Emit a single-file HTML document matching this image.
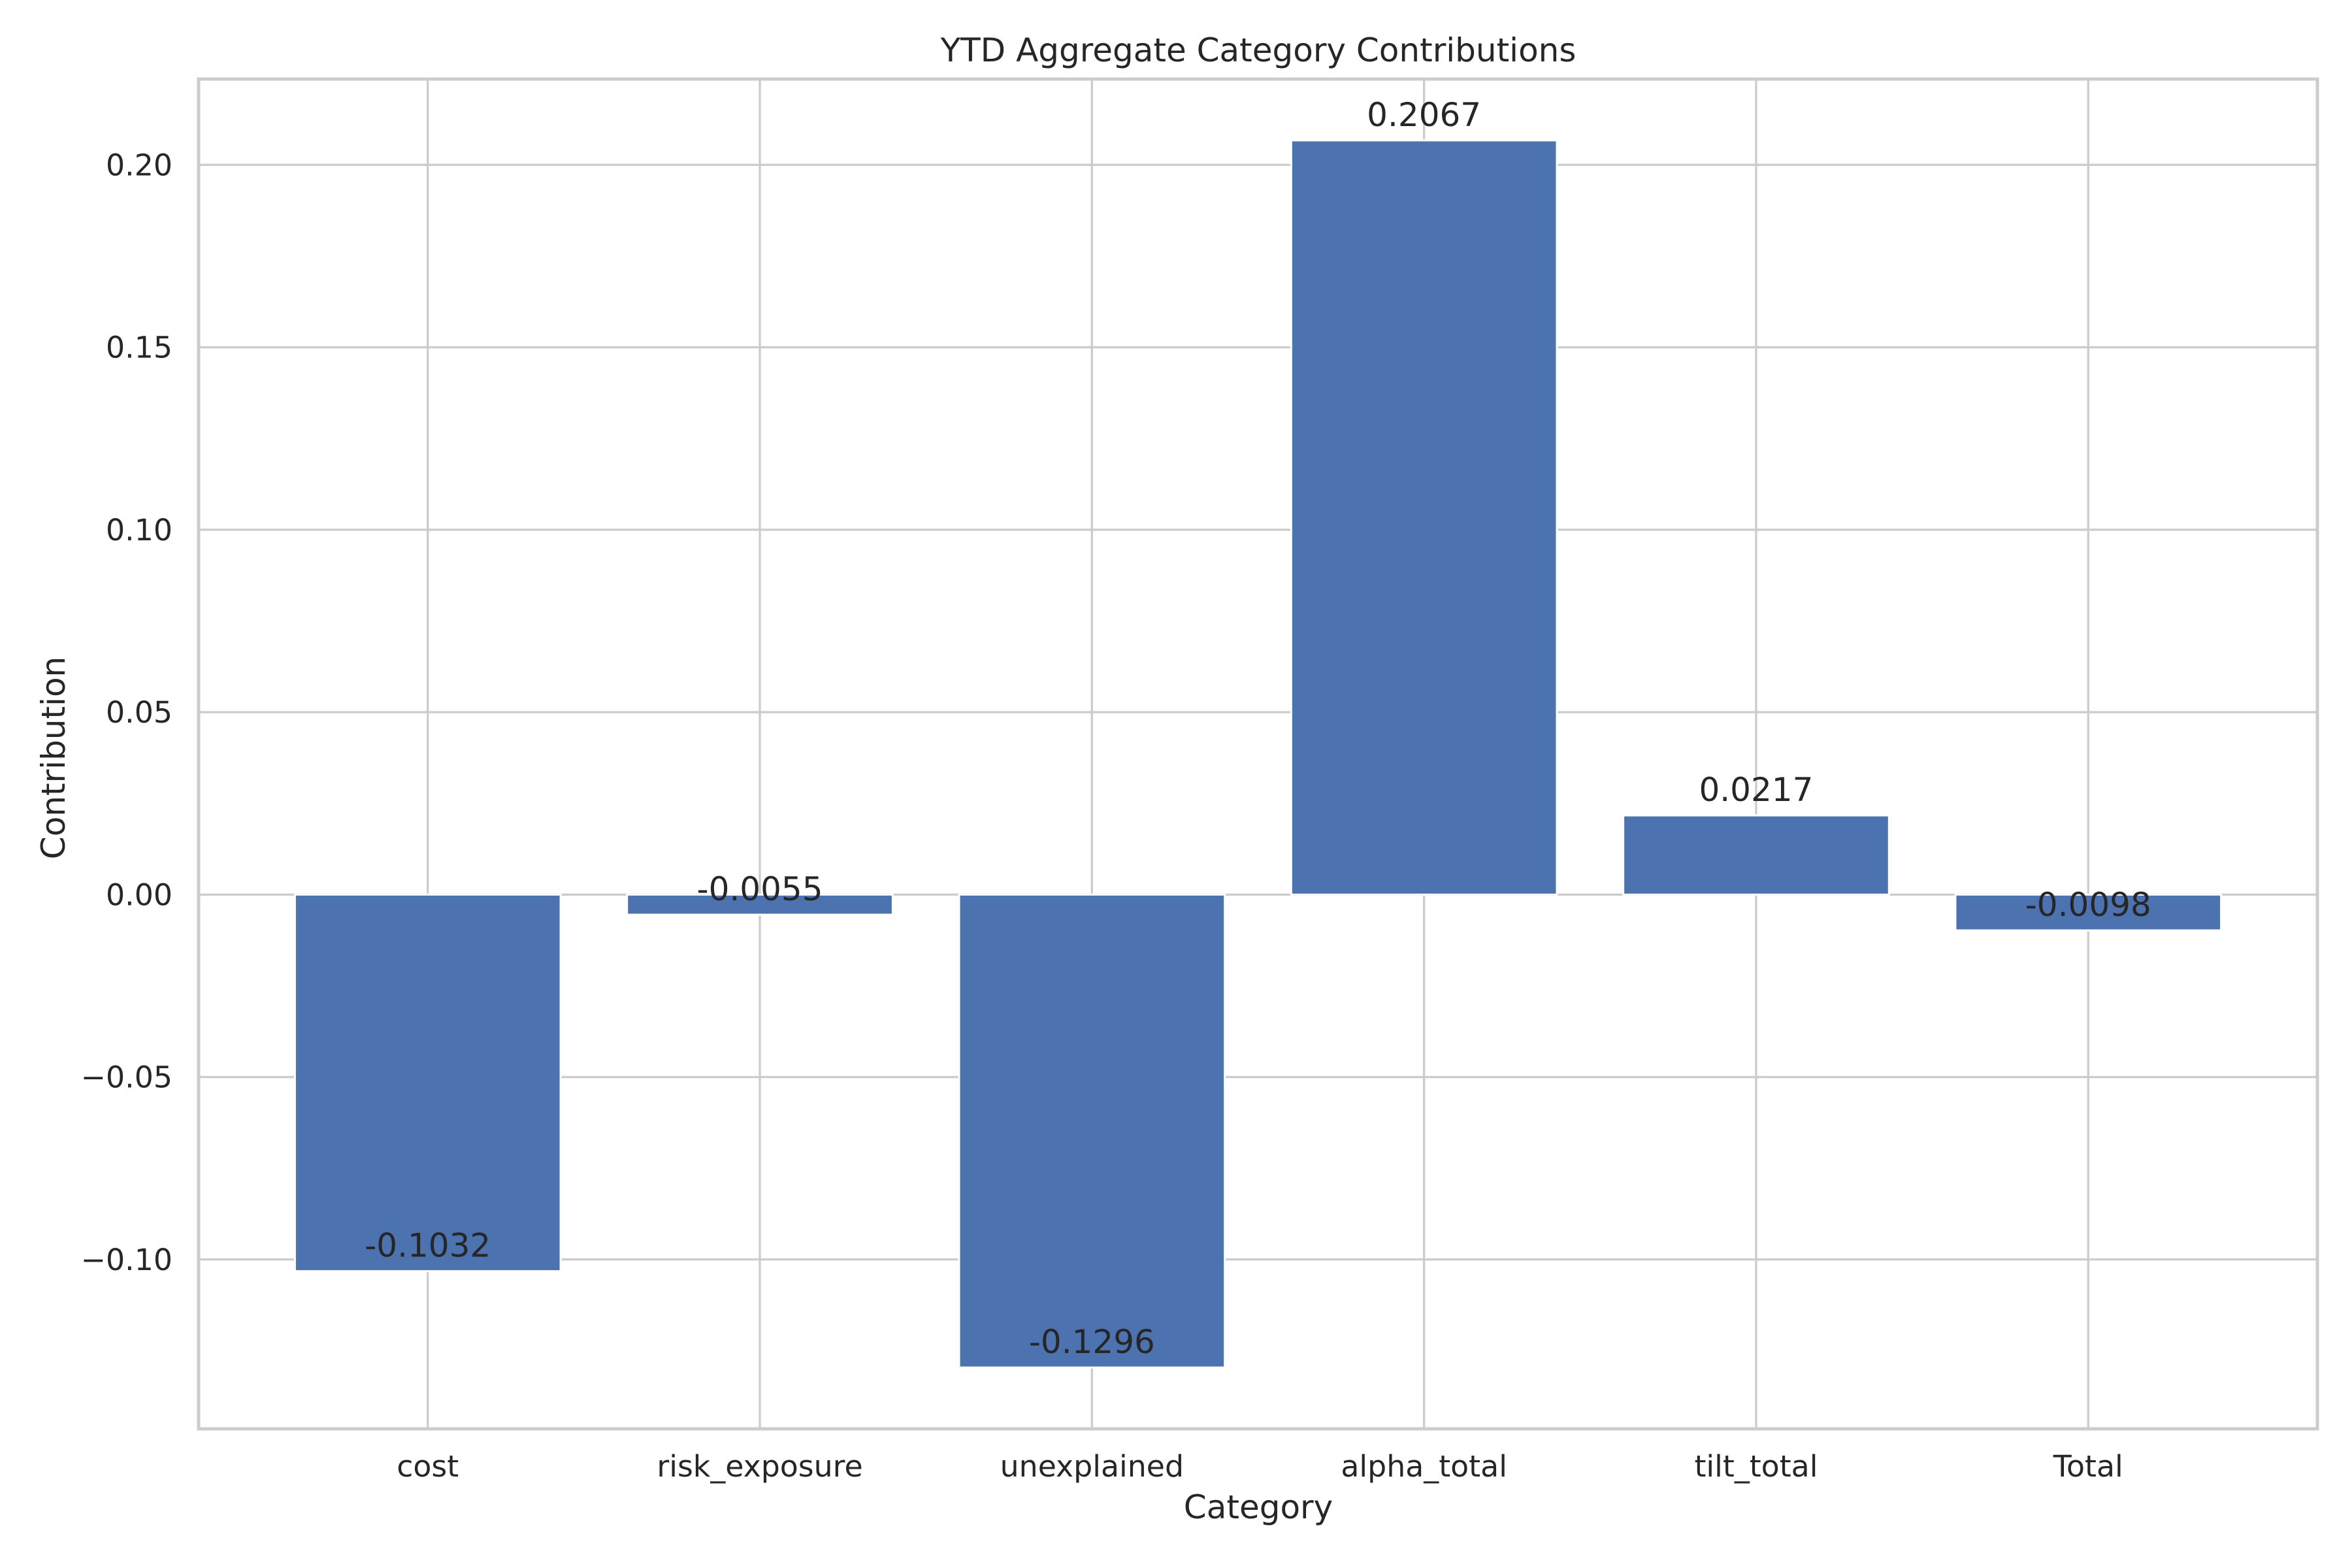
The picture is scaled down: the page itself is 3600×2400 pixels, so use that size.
<!DOCTYPE html>
<html><head><meta charset="utf-8"><style>
html,body{margin:0;padding:0;background:#fff;}
svg{display:block;}
text{font-family:"DejaVu Sans","Liberation Sans",sans-serif;fill:#262626;}
</style></head><body>
<svg id="chart" width="3600" height="2400" viewBox="0 0 3600 2400" xmlns="http://www.w3.org/2000/svg">
<rect width="3600" height="2400" fill="#fff"/>
<g id="grid"></g><g id="bars"></g><g id="labels"></g><g id="axes"></g>
<text x="1926" y="94" font-size="50" text-anchor="middle">YTD Aggregate Category Contributions</text>
<text x="1926" y="2324" font-size="50" text-anchor="middle">Category</text>
<text x="0" y="0" font-size="50" text-anchor="middle" transform="translate(99,1160) rotate(-90)">Contribution</text>
</svg>
<script>
const categories = ["cost","risk_exposure","unexplained","alpha_total","tilt_total","Total"];
const values = [-0.1032,-0.0055,-0.1296,0.2067,0.0217,-0.0098];
const valueLabels = ["-0.1032","-0.0055","-0.1296","0.2067","0.0217","-0.0098"];
const yTicks = [-0.10,-0.05,0.00,0.05,0.10,0.15,0.20];
const yTickLabels = ["\u22120.10","\u22120.05","0.00","0.05","0.10","0.15","0.20"];

const NS="http://www.w3.org/2000/svg";
const L=304,R=3547,T=121,B=2187;
const n=categories.length;
const xmin=-0.69,xmax=n-1+0.69;
const vmin=Math.min(0,...values),vmax=Math.max(0,...values);
const span=vmax-vmin;
const ymin=vmin-0.05*span,ymax=vmax+0.05*span;
function x(i){return L+(i-xmin)/(xmax-xmin)*(R-L);}
function y(v){return B-(v-ymin)/(ymax-ymin)*(B-T);}
function mk(tag,attrs,parent){const e=document.createElementNS(NS,tag);for(const k in attrs)e.setAttribute(k,attrs[k]);parent.appendChild(e);return e;}
const grid=document.getElementById('grid'),bars=document.getElementById('bars'),labels=document.getElementById('labels'),axes=document.getElementById('axes');
yTicks.forEach((t,k)=>{
  const gy=y(t);
  const l=mk('line',{x1:L,x2:R,y1:gy,y2:gy,stroke:'#cccccc','stroke-width':3.3},grid);
  
  
  const tx=mk('text',{x:L-40,y:gy+16,'font-size':45.8,'text-anchor':'end'},axes);
  tx.textContent=yTickLabels[k];
  
  
});
categories.forEach((c,i)=>{
  const cx=x(i);
  const g=mk('line',{x1:cx,x2:cx,y1:T,y2:B,stroke:'#cccccc','stroke-width':3.3},grid);
  
  
  const w=0.8*(x(1)-x(0));
  const y0=y(0),y1=y(values[i]);
  const r=mk('rect',{x:cx-w/2,y:Math.min(y0,y1),width:w,height:Math.abs(y1-y0),fill:'#4c72b0',stroke:'#ffffff','stroke-width':3},bars);
  
  
  const vl=mk('text',{x:cx,y:y1-22,'font-size':50,'text-anchor':'middle'},labels);
  vl.textContent=valueLabels[i];
  
  
  const tl=mk('text',{x:cx,y:2260,'font-size':45.8,'text-anchor':'middle'},axes);
  tl.textContent=c;
  
  
});
const fr=mk('rect',{x:L,y:T,width:R-L,height:B-T,fill:'none',stroke:'#cccccc','stroke-width':5},axes);


</script>
</body></html>
